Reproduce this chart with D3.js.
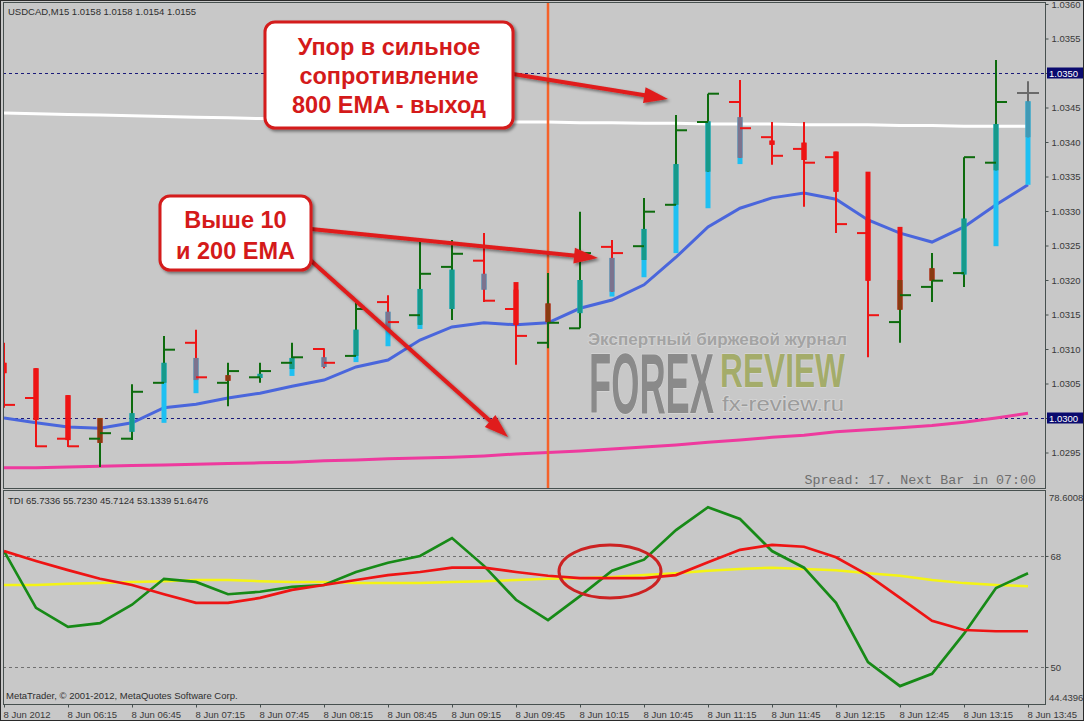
<!DOCTYPE html>
<html><head><meta charset="utf-8">
<script src="https://cdn.jsdelivr.net/npm/d3@7"></script>
<style>
html,body{margin:0;padding:0;background:#c8c8c8;}
svg{display:block;}
</style></head><body>
<script>
// ---------- DATA ----------
const symbolTitle = "USDCAD,M15  1.0158 1.0158 1.0154 1.0155";
const tdiTitle = "TDI 65.7336 55.7230 45.7124 53.1339 51.6476";
const copyright = "MetaTrader, \u00A9 2001-2012, MetaQuotes Software Corp.";
const spreadText = "Spread: 17. Next Bar in 07:00";
const dayLabel = "8 Jun";
const yearLabel = "2012";
const barTimes = ["05:45","06:00","06:15","06:30","06:45","07:00","07:15","07:30","07:45","08:00","08:15","08:30","08:45","09:00","09:15","09:30","09:45","10:00","10:15","10:30","10:45","11:00","11:15","11:30","11:45","12:00","12:15","12:30","12:45","13:00","13:15","13:30","13:45"];
const open  = [1.03106,1.03029,1.02970,1.02970,1.02970,1.03051,1.03109,1.03051,1.03059,1.03080,1.03100,1.03090,1.03168,1.03149,1.03219,1.03228,1.03158,1.03109,1.03130,1.03248,1.03249,1.03309,1.03429,1.03458,1.03407,1.03390,1.03378,1.03268,1.03139,1.03190,1.03210,1.03370,1.03471];
const high  = [1.03109,1.03072,1.03033,1.03000,1.03049,1.03119,1.03128,1.03080,1.03080,1.03109,1.03101,1.03168,1.03178,1.03255,1.03258,1.03268,1.03186,1.03210,1.03299,1.03258,1.03319,1.03439,1.03470,1.03490,1.03429,1.03429,1.03386,1.03288,1.03200,1.03239,1.03378,1.03519,1.03488];
const low   = [1.03015,1.02958,1.02958,1.02929,1.02968,1.03051,1.03055,1.03017,1.03051,1.03071,1.03072,1.03090,1.03129,1.03135,1.03142,1.03168,1.03077,1.03101,1.03130,1.03183,1.03229,1.03309,1.03357,1.03377,1.03367,1.03306,1.03268,1.03088,1.03109,1.03168,1.03190,1.03359,1.03407];
const close = [1.03019,1.02959,1.02959,1.02978,1.03038,1.03099,1.03059,1.03068,1.03068,1.03088,1.03080,1.03158,1.03139,1.03209,1.03238,1.03170,1.03119,1.03138,1.03239,1.03239,1.03299,1.03417,1.03470,1.03420,1.03380,1.03370,1.03281,1.03149,1.03178,1.03199,1.03378,1.03458,1.03471];
const haOpen  = [1.03080,1.03072,1.03033,1.03000,1.02980,1.02993,1.03036,1.03062,1.03058,1.03061,1.03074,1.03081,1.03104,1.03129,1.03158,1.03186,1.03197,1.03166,1.03152,1.03176,1.03204,1.03239,1.03304,1.03368,1.03402,1.03399,1.03386,1.03357,1.03277,1.03217,1.03208,1.03249,1.03338];
const haClose = [1.03065,1.02997,1.02968,1.02964,1.03007,1.03080,1.03087,1.03054,1.03064,1.03087,1.03088,1.03128,1.03154,1.03187,1.03215,1.03209,1.03135,1.03139,1.03200,1.03232,1.03274,1.03368,1.03430,1.03436,1.03396,1.03374,1.03328,1.03199,1.03157,1.03199,1.03289,1.03426,1.03459];
const ema10  = [1.03000,1.02993,1.02987,1.02985,1.02993,1.03015,1.03020,1.03029,1.03036,1.03046,1.03055,1.03074,1.03084,1.03113,1.03132,1.03138,1.03135,1.03138,1.03159,1.03171,1.03193,1.03233,1.03277,1.03304,1.03319,1.03326,1.03317,1.03287,1.03268,1.03255,1.03277,1.03309,1.03338];
const ema200 = [1.02928,1.02928,1.02929,1.02930,1.02931,1.02932,1.02933,1.02934,1.02935,1.02936,1.02938,1.02939,1.02941,1.02942,1.02943,1.02945,1.02948,1.02950,1.02952,1.02955,1.02958,1.02961,1.02965,1.02968,1.02972,1.02975,1.02980,1.02983,1.02986,1.02989,1.02994,1.03000,1.03007];
const ema800 = [1.03442,1.03441,1.03440,1.03439,1.03438,1.03437,1.03436,1.03435,1.03434,1.03433,1.03433,1.03432,1.03432,1.03431,1.03430,1.03430,1.03429,1.03429,1.03428,1.03428,1.03427,1.03427,1.03426,1.03426,1.03426,1.03425,1.03425,1.03425,1.03424,1.03424,1.03423,1.03423,1.03423];
const tdiGreen  = [68.8,59.6,56.5,57.1,60.1,64.3,63.8,61.8,62.2,63.0,63.3,65.4,66.9,68.0,70.9,66.4,60.9,57.6,61.5,65.6,67.4,72.2,75.9,74.0,68.8,66.1,60.4,50.8,46.9,48.9,55.4,62.8,65.2];
const tdiRed    = [68.8,67.2,65.7,64.3,63.3,61.8,60.4,60.4,61.2,62.5,63.3,64.1,64.9,65.4,66.1,66.1,65.4,64.8,64.4,64.4,64.4,64.9,67.0,69.0,69.8,69.5,67.8,64.9,61.2,57.5,56.0,55.8,55.8];
const tdiYellow = [63.3,63.3,63.5,63.6,63.8,63.9,64.1,64.1,63.9,63.8,63.8,63.6,63.6,63.6,63.8,63.9,64.1,64.3,64.4,64.6,64.9,65.2,65.6,65.9,66.1,65.9,65.7,65.2,64.8,64.1,63.6,63.3,63.1];
const priceTicks = [1.0295,1.0300,1.0305,1.0310,1.0315,1.0320,1.0325,1.0330,1.0335,1.0340,1.0345,1.0350,1.0355,1.0360];
const priceRange = [1.0290, 1.0360];
const markedPrices = [1.0350, 1.0300];
const tdiRange = [44.4396, 78.6008];
const tdiLevels = [68, 50];
const exitBarTime = "10:00";
const callout1 = ["Упор в сильное","сопротивление","800 EMA - выход"];
const callout2 = ["Выше 10","и 200 EMA"];
const wmLine1 = "Экспертный биржевой журнал";
const wmForex = "FOREX", wmReview = "REVIEW", wmUrl = "fx-review.ru";

// ---------- SETUP ----------
const W = 1084, H = 721;
const UI = "'Liberation Sans', Arial, sans-serif";
const GREEN = "#0d6b0d", RED = "#ee1414", GRAY = "#6a6a6a", CYAN = "#1ec0f2";
const main = {x0: 3, x1: 1045, y0: 2, y1: 488};
const sub  = {x0: 3, x1: 1045, y0: 490, y1: 704};

const svg = d3.select("body").append("svg").attr("width", W).attr("height", H)
  .style("font-family", UI);
svg.append("rect").attr("width", W).attr("height", H).attr("fill", "#c8c8c8");

const defs = svg.append("defs");
defs.append("clipPath").attr("id", "mclip").append("rect")
  .attr("x", main.x0 + 1).attr("y", main.y0 + 1).attr("width", main.x1 - main.x0 - 1).attr("height", main.y1 - main.y0 - 1);
defs.append("clipPath").attr("id", "sclip").append("rect")
  .attr("x", sub.x0 + 1).attr("y", sub.y0 + 1).attr("width", sub.x1 - sub.x0 - 1).attr("height", sub.y1 - sub.y0 - 1);
const sh = defs.append("filter").attr("id", "shadow").attr("x", "-20%").attr("y", "-20%").attr("width", "140%").attr("height", "140%");
sh.append("feDropShadow").attr("dx", 2).attr("dy", 2).attr("stdDeviation", 1.5).attr("flood-color", "#000").attr("flood-opacity", 0.45);

const x = d3.scalePoint().domain(barTimes).range([4, 1028]);
const y = d3.scaleLinear().domain(priceRange).range([487, 4]);
const yt = d3.scaleLinear().domain(tdiRange).range([701.3, 490.6]);

// ---------- MAIN PANEL ----------
const mg = svg.append("g").attr("clip-path", "url(#mclip)");

// dotted price levels
mg.selectAll("line.lvl").data(markedPrices).join("line")
  .attr("x1", main.x0).attr("x2", main.x1).attr("y1", d => Math.round(y(d)) + 0.5).attr("y2", d => Math.round(y(d)) + 0.5)
  .attr("stroke", "#1a1a7a").attr("stroke-width", 1).attr("stroke-dasharray", "3,3");

// watermark
const wm = mg.append("g").attr("paint-order", "stroke").attr("stroke", "#d6d6d6").attr("stroke-width", 1.5);
wm.append("text").attr("x", 588).attr("y", 345).attr("font-size", 16.5).attr("font-weight", "bold")
  .attr("fill", "#a3a3a3").attr("textLength", 259).attr("lengthAdjust", "spacingAndGlyphs").text(wmLine1);
wm.append("text").attr("x", 589).attr("y", 413).attr("font-size", 86).attr("font-weight", "bold")
  .attr("fill", "#8a8a8a").attr("textLength", 125).attr("lengthAdjust", "spacingAndGlyphs").text(wmForex);
wm.append("text").attr("x", 720).attr("y", 387).attr("font-size", 48).attr("font-weight", "bold")
  .attr("fill", "#a4ac6a").attr("textLength", 125).attr("lengthAdjust", "spacingAndGlyphs").text(wmReview);
wm.append("text").attr("x", 722).attr("y", 411).attr("font-size", 21)
  .attr("fill", "#9c9c9c").attr("textLength", 122).attr("lengthAdjust", "spacingAndGlyphs").text(wmUrl);

// moving averages
const lineGen = arr => d3.line().x((d, i) => x(barTimes[i])).y(d => y(d))(arr);
mg.append("path").attr("d", lineGen(ema800)).attr("fill", "none").attr("stroke", "#ffffff").attr("stroke-width", 3);
mg.append("path").attr("d", lineGen(ema200)).attr("fill", "none").attr("stroke", "#ee3a9e").attr("stroke-width", 3);
mg.append("path").attr("d", lineGen(ema10)).attr("fill", "none").attr("stroke", "#4a66dc").attr("stroke-width", 3);

// exit vertical line
mg.append("line").attr("x1", x(exitBarTime)).attr("x2", x(exitBarTime)).attr("y1", main.y0).attr("y2", main.y1)
  .attr("stroke", "#f5622a").attr("stroke-width", 2.5);

// bars with Heiken Ashi bodies
const bars = mg.append("g");
barTimes.forEach((t, i) => {
  const cx = x(t);
  const col = close[i] > open[i] ? GREEN : (close[i] < open[i] ? RED : GRAY);
  const bcol = haClose[i] > haOpen[i] ? CYAN : RED;
  const bTop = y(Math.max(haOpen[i], haClose[i])), bBot = y(Math.min(haOpen[i], haClose[i]));
  const hY = y(high[i]), lY = y(low[i]);
  bars.append("rect").attr("x", cx - 2.5).attr("width", 5).attr("y", bTop).attr("height", Math.max(bBot - bTop, 2)).attr("fill", bcol);
  bars.append("line").attr("x1", cx).attr("x2", cx).attr("y1", hY).attr("y2", lY).attr("stroke", col).attr("stroke-width", 2);
  const oTop = Math.max(bTop, hY), oBot = Math.min(bBot, lY);
  if (oBot > oTop) {
    bars.append("rect").attr("x", cx - 2.5).attr("width", 5).attr("y", oTop).attr("height", oBot - oTop)
      .attr("fill", d3.interpolateRgb(bcol, col)(0.45));
  }
  bars.append("line").attr("x1", cx - 11).attr("x2", cx).attr("y1", y(open[i])).attr("y2", y(open[i])).attr("stroke", col).attr("stroke-width", 2);
  bars.append("line").attr("x1", cx).attr("x2", cx + 11).attr("y1", y(close[i])).attr("y2", y(close[i])).attr("stroke", col).attr("stroke-width", 2);
});

// spread text
svg.append("text").attr("x", 1036).attr("y", 484).attr("text-anchor", "end")
  .attr("font-family", "'Liberation Mono', 'Courier New', monospace").attr("font-size", 13.3)
  .attr("fill", "#6e6e6e").text(spreadText);

// header
svg.append("text").attr("x", 8).attr("y", 15).attr("font-size", 9.5).attr("fill", "#2e2e2e").text(symbolTitle);

// panel frames
svg.append("rect").attr("x", main.x0 + 0.5).attr("y", main.y0 + 0.5).attr("width", main.x1 - main.x0).attr("height", main.y1 - main.y0)
  .attr("fill", "none").attr("stroke", "#47504f").attr("stroke-width", 1);

// price axis
const pa = svg.append("g").attr("transform", `translate(${main.x1 + 0.5},0)`)
  .call(d3.axisRight(y).tickValues(priceTicks).tickSize(3).tickPadding(3)
    .tickFormat(d => markedPrices.some(m => Math.abs(m - d) < 1e-7) ? "" : d3.format(".4f")(d)));
pa.select(".domain").remove();
pa.selectAll("line").attr("stroke", "#47504f");
pa.selectAll("text").attr("font-size", 9.5).attr("fill", "#3a3a3a").attr("font-family", UI);
markedPrices.forEach(p => {
  const yy = Math.round(y(p));
  svg.append("rect").attr("x", 1047).attr("y", yy - 5.5).attr("width", 37).attr("height", 11).attr("fill", "#0a0a6e");
  svg.append("text").attr("x", 1049).attr("y", yy + 3.5).attr("font-size", 9.5).attr("fill", "#ffffff").text(d3.format(".4f")(p));
});

// ---------- TDI PANEL ----------
const sg = svg.append("g").attr("clip-path", "url(#sclip)");
sg.selectAll("line.tl").data(tdiLevels).join("line")
  .attr("x1", sub.x0).attr("x2", sub.x1).attr("y1", d => Math.round(yt(d)) + 0.5).attr("y2", d => Math.round(yt(d)) + 0.5)
  .attr("stroke", "#707070").attr("stroke-width", 1).attr("stroke-dasharray", "3,3");
const tLine = arr => d3.line().x((d, i) => x(barTimes[i])).y(d => yt(d))(arr);
sg.append("path").attr("d", tLine(tdiYellow)).attr("fill", "none").attr("stroke", "#f4f414").attr("stroke-width", 2.5);
sg.append("path").attr("d", tLine(tdiGreen)).attr("fill", "none").attr("stroke", "#178a17").attr("stroke-width", 2.7);
sg.append("path").attr("d", tLine(tdiRed)).attr("fill", "none").attr("stroke", "#ee1414").attr("stroke-width", 2.7);

svg.append("ellipse").attr("cx", 610).attr("cy", 571.5).attr("rx", 51).attr("ry", 26.5)
  .attr("fill", "none").attr("stroke", "#cc2222").attr("stroke-width", 3);

svg.append("text").attr("x", 8).attr("y", 504).attr("font-size", 9.5).attr("fill", "#2e2e2e").text(tdiTitle);
svg.append("text").attr("x", 6).attr("y", 699).attr("font-size", 9.5).attr("fill", "#2e2e2e").text(copyright);

svg.append("rect").attr("x", sub.x0 + 0.5).attr("y", sub.y0 + 0.5).attr("width", sub.x1 - sub.x0).attr("height", sub.y1 - sub.y0)
  .attr("fill", "none").attr("stroke", "#47504f").attr("stroke-width", 1);

const ta = svg.append("g").attr("transform", `translate(${sub.x1 + 0.5},0)`)
  .call(d3.axisRight(yt).tickValues(tdiLevels).tickSize(3).tickPadding(2).tickFormat(d3.format("d")));
ta.select(".domain").remove();
ta.selectAll("line").attr("stroke", "#47504f");
ta.selectAll("text").attr("font-size", 9.5).attr("fill", "#3a3a3a").attr("font-family", UI);
svg.append("text").attr("x", 1049).attr("y", 500.5).attr("font-size", 9.5).attr("fill", "#3a3a3a").text(d3.format(".4f")(tdiRange[1]));
svg.append("text").attr("x", 1049).attr("y", 700.5).attr("font-size", 9.5).attr("fill", "#3a3a3a").text(d3.format(".4f")(tdiRange[0]));

// ---------- TIME AXIS ----------
const xa = svg.append("g").attr("transform", `translate(0,${sub.y1 + 0.5})`)
  .call(d3.axisBottom(x).tickValues(barTimes.filter((t, i) => i % 2 === 0)).tickSize(3).tickPadding(4)
    .tickFormat((t, i) => i === 0 ? `${dayLabel} ${yearLabel}` : `${dayLabel} ${t}`));
xa.select(".domain").remove();
xa.selectAll("line").attr("stroke", "#47504f");
xa.selectAll("text").attr("font-size", 9.5).attr("fill", "#3a3a3a").attr("font-family", UI)
  .attr("text-anchor", "start").attr("dx", -1);

// outer frame
svg.append("rect").attr("x", 0.5).attr("y", 0.5).attr("width", W - 1).attr("height", H - 1)
  .attr("fill", "none").attr("stroke", "#2a2a2a").attr("stroke-width", 1);

// ---------- ANNOTATIONS ----------
const ann = svg.append("g");
function arrow(x1, y1, x2, y2) {
  const a = Math.atan2(y2 - y1, x2 - x1), hl = 24, hw = 8;
  const bx = x2 - hl * Math.cos(a), by = y2 - hl * Math.sin(a);
  const g = ann.append("g").attr("filter", "url(#shadow)");
  g.append("line").attr("x1", x1).attr("y1", y1).attr("x2", bx + 2 * Math.cos(a)).attr("y2", by + 2 * Math.sin(a))
    .attr("stroke", "#e01c1c").attr("stroke-width", 4);
  const px = -Math.sin(a), py = Math.cos(a);
  g.append("polygon").attr("points", [[x2, y2], [bx + px * hw, by + py * hw], [bx - px * hw, by - py * hw]].map(p => p.join(",")).join(" "))
    .attr("fill", "#e01c1c");
}
arrow(513, 74, 668, 99);
arrow(311, 229, 598, 258);
arrow(308, 258, 508, 437);

function callout(x0, y0, w, h, lines, ly0, lh) {
  const g = ann.append("g");
  g.append("rect").attr("x", x0).attr("y", y0).attr("width", w).attr("height", h).attr("rx", 10)
    .attr("fill", "#ffffff").attr("stroke", "#d41a1a").attr("stroke-width", 3).attr("filter", "url(#shadow)");
  lines.forEach((s, k) => g.append("text").attr("x", x0 + w / 2).attr("y", ly0 + k * lh).attr("text-anchor", "middle")
    .attr("font-size", 23.5).attr("font-weight", "bold").attr("fill", "#d41a1a").text(s));
}
callout(265, 22, 248, 106, callout1, 55, 29);
callout(160, 196, 151, 74, callout2, 228, 31);
</script>
</body></html>
